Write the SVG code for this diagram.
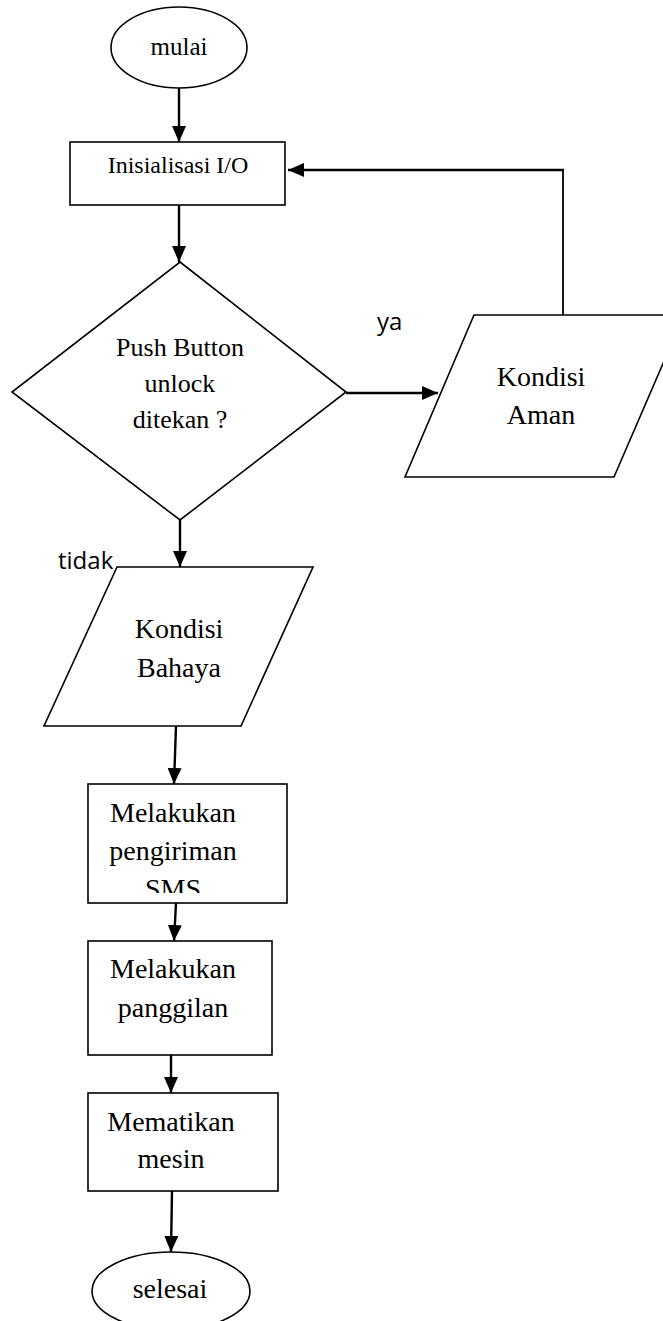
<svg xmlns="http://www.w3.org/2000/svg" width="663" height="1321" viewBox="0 0 663 1321">
<defs>
<style>
.shape{fill:#fff;stroke:#000;stroke-width:1.6}
.conn{fill:none;stroke:#000;stroke-width:2.4}
.thin{fill:none;stroke:#000;stroke-width:1.8}
.t{font-family:"Liberation Serif","Times New Roman",serif;fill:#000;text-anchor:middle}
.lbl{font-family:"Open Sans","Liberation Sans",sans-serif;fill:#000;font-size:24px}
</style>
<marker id="ah" viewBox="0 0 16 14" refX="16" refY="7" markerWidth="16" markerHeight="14" markerUnits="userSpaceOnUse" orient="auto">
<path d="M0,0 L16,7 L0,14 Z" fill="#000"/>
</marker>
<clipPath id="clipSms"><rect x="88" y="784" width="199" height="109"/></clipPath>
</defs>

<g id="connectors">
<line class="conn" x1="179" y1="88" x2="179" y2="142" marker-end="url(#ah)"/>
<line class="conn" x1="179" y1="205" x2="179" y2="262" marker-end="url(#ah)"/>
<line class="conn" x1="346" y1="393" x2="438" y2="393" marker-end="url(#ah)"/>
<line class="thin" x1="563" y1="315" x2="563" y2="170"/>
<line class="conn" x1="564" y1="170" x2="288" y2="170" marker-end="url(#ah)"/>
<line class="conn" x1="180" y1="520" x2="180" y2="567" marker-end="url(#ah)"/>
<line class="conn" x1="176" y1="726" x2="174" y2="784" marker-end="url(#ah)"/>
<line class="conn" x1="176" y1="903" x2="174" y2="941" marker-end="url(#ah)"/>
<line class="conn" x1="171" y1="1055" x2="171" y2="1093" marker-end="url(#ah)"/>
<line class="conn" x1="172" y1="1191" x2="171" y2="1252" marker-end="url(#ah)"/>
</g>

<g id="mulai">
<ellipse class="shape" cx="179" cy="47.5" rx="68" ry="40.5"/>
<text class="t" x="179" y="55" font-size="25">mulai</text>
</g>

<g id="inisialisasi">
<rect class="shape" x="70" y="142" width="215" height="63"/>
<text class="t" x="178" y="173" font-size="24">Inisialisasi I/O</text>
</g>

<g id="keputusan">
<polygon class="shape" points="180,262 346,392 180,520 12,392"/>
<text class="t" x="180" y="356" font-size="26">Push Button</text>
<text class="t" x="180" y="392" font-size="26">unlock</text>
<text class="t" x="180" y="428" font-size="26">ditekan ?</text>
</g>

<g id="label-ya">
<text class="lbl" x="377" y="330">ya</text>
</g>

<g id="kondisi-aman">
<polygon class="shape" points="474,315 684,315 614,477 405,477"/>
<text class="t" x="541" y="386" font-size="28">Kondisi</text>
<text class="t" x="541" y="424" font-size="28">Aman</text>
</g>

<g id="label-tidak">
<text class="lbl" x="58" y="569">tidak</text>
</g>

<g id="kondisi-bahaya">
<polygon class="shape" points="117,567 313,567 241,726 44,726"/>
<text class="t" x="179" y="638" font-size="28">Kondisi</text>
<text class="t" x="179" y="677" font-size="28">Bahaya</text>
</g>

<g id="pengiriman-sms">
<rect class="shape" x="88" y="784" width="199" height="119"/>
<g clip-path="url(#clipSms)">
<text class="t" x="173" y="822" font-size="28">Melakukan</text>
<text class="t" x="173" y="860" font-size="28">pengiriman</text>
<text class="t" x="173" y="898" font-size="28">SMS</text>
</g>
</g>

<g id="panggilan">
<rect class="shape" x="88" y="941" width="184" height="114"/>
<text class="t" x="173" y="978" font-size="28">Melakukan</text>
<text class="t" x="173" y="1017" font-size="28">panggilan</text>
</g>

<g id="mematikan">
<rect class="shape" x="88" y="1093" width="190" height="98"/>
<text class="t" x="171" y="1131" font-size="28">Mematikan</text>
<text class="t" x="171" y="1168" font-size="28">mesin</text>
</g>

<g id="selesai">
<ellipse class="shape" cx="171" cy="1291" rx="79" ry="39"/>
<text class="t" x="170" y="1298" font-size="28">selesai</text>
</g>
</svg>
